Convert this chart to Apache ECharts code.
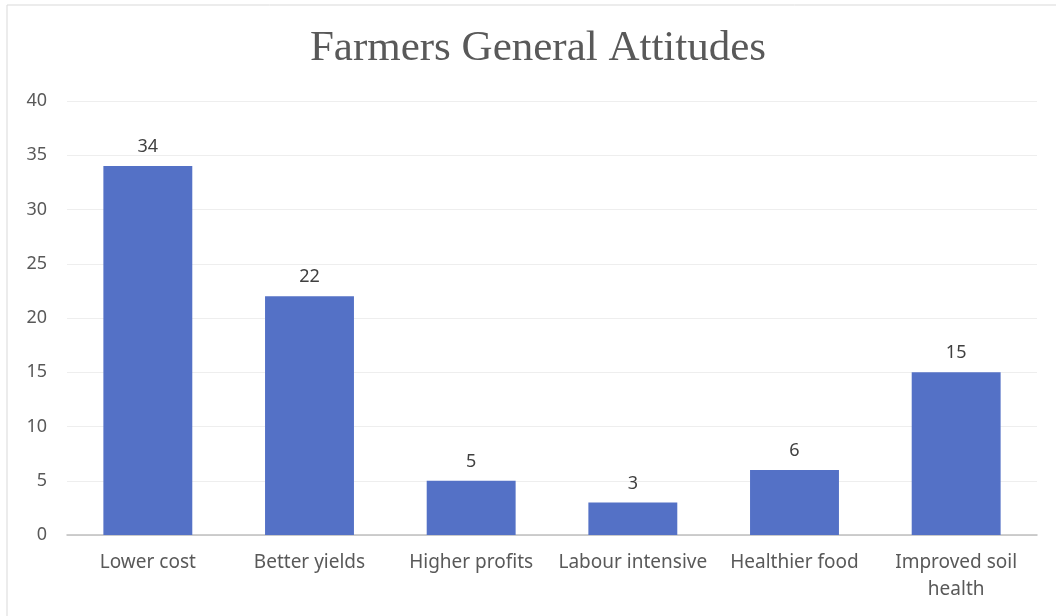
<!DOCTYPE html>
<html><head><meta charset="utf-8">
<script src="https://cdn.jsdelivr.net/npm/echarts@6/dist/echarts.min.js"></script>
<style>html,body{margin:0;padding:0;background:#fff}#c{width:1056px;height:616px}</style>
</head><body><div id="c"></div>
<script>
const categories = ['Lower cost','Better yields','Higher profits','Labour intensive','Healthier food','Improved soil health'];
const values = [34, 22, 5, 3, 6, 15];
const chart = echarts.init(document.getElementById('c'), null, {renderer:'canvas'});
chart.setOption({
  animation:false,
  backgroundColor:'#fff',
  graphic:[{type:'rect',shape:{x:7,y:5,width:1060,height:620},style:{fill:'none',stroke:'#d9d9d9',lineWidth:1},silent:true}],
  title:{text:'Farmers General Attitudes',left:533,textAlign:'center',top:22,textStyle:{fontFamily:'Liberation Serif',fontWeight:'normal',fontSize:43,color:'#595959'}},
  grid:{left:67,right:19,top:101,bottom:81},
  xAxis:{type:'category',data:categories,
    axisLine:{lineStyle:{color:'#bfbfbf',width:1.5}},axisTick:{show:false},
    axisLabel:{interval:0,color:'#595959',fontFamily:'Noto Sans',fontSize:19,margin:14,lineHeight:27,
      formatter:v=>v.length>17?v.replace(/ (\S+)$/,'\n$1'):v}},
  yAxis:{type:'value',min:0,max:40,interval:5,
    axisLine:{show:false},axisTick:{show:false},
    splitLine:{lineStyle:{color:'#eeeeee',width:1}},
    axisLabel:{color:'#595959',fontFamily:'Noto Sans',fontSize:18,margin:20}},
  series:[{type:'bar',data:values,barWidth:'55%',itemStyle:{color:'#5471c6'},
    label:{show:true,position:'top',distance:10,color:'#404040',fontFamily:'Noto Sans',fontSize:18}}]
});
</script></body></html>
